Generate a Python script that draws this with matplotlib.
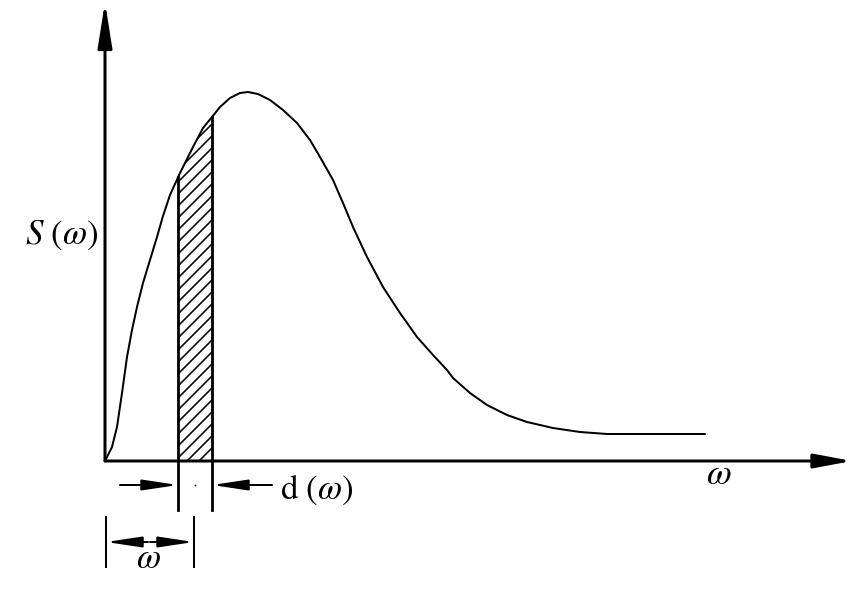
import numpy as np
import matplotlib
matplotlib.use("Agg")
import matplotlib.pyplot as plt
from matplotlib.patches import FancyArrowPatch, ArrowStyle

plt.rcParams['mathtext.fontset'] = 'stix'
plt.rcParams['font.family'] = ['Liberation Serif', 'DejaVu Serif']
plt.rcParams['hatch.linewidth'] = 1.6

# spectrum curve S(omega)
omega = [0, 7, 12, 17, 22, 27, 32, 38, 45, 52, 58, 65, 75, 88, 98, 107, 115, 125,
         135, 143, 153, 165, 178, 192, 205, 215, 228, 238, 248, 262, 278, 295, 312,
         328, 342, 348, 365, 382, 402, 422, 448, 475, 502, 532, 600]
S = [0, 14, 34, 68, 104, 131, 154, 178, 201, 224, 245, 266, 288, 314, 333, 344, 354,
     363, 368, 369, 367, 361, 351, 338, 321, 304, 281, 258, 234, 204, 174, 148, 124,
     106, 91, 83, 68, 56, 46, 39, 33, 29, 27, 27, 27]

# strip of width d(omega) at omega
strip_left = 73
strip_right = 107
axis_x_end = 747
axis_y_end = 459

DPI = 72
fig = plt.figure(figsize=(854 / DPI, 611 / DPI), dpi=DPI)
ax = fig.add_axes([0, 0, 1, 1])
ax.set_xlim(-105, 749)
ax.set_ylim(-150, 461)
ax.axis('off')


def arrow(p0, p1, hl=30, hw=5, lw=2.5):
    a = FancyArrowPatch(p0, p1, arrowstyle=ArrowStyle('-|>', head_length=hl, head_width=hw),
                        mutation_scale=1, shrinkA=0, shrinkB=0, color='black', lw=lw)
    ax.add_patch(a)


# axes
arrow((0, 0), (axis_x_end, 0), hl=32, hw=6, lw=3)
arrow((0, 0), (0, axis_y_end), hl=38, hw=6, lw=3)

# curve
ax.plot(omega, S, color='black', lw=2, solid_joinstyle='round', solid_capstyle='round')

# hatched strip
xs = np.linspace(strip_left, strip_right, 60)
ys = np.interp(xs, omega, S)
ax.fill_between(xs, 0, ys, facecolor='none', edgecolor='black', hatch='//', lw=0)
yl = np.interp(strip_left, omega, S)
yr = np.interp(strip_right, omega, S)
ax.plot([strip_left, strip_left], [-49, yl], color='black', lw=2.8)
ax.plot([strip_right, strip_right], [-49, yr], color='black', lw=2.8)

# d(omega) dimension
arrow((15, -24), (strip_left, -24), hl=30, hw=4.5, lw=2)
arrow((167, -24), (strip_right, -24), hl=30, hw=4.5, lw=2)
ax.plot([(strip_left + strip_right) / 2], [-24], marker='.', ms=1.5, color='black')
ax.text(175, -29, r'$\mathrm{d}\ (\omega)$', fontsize=35, ha='left', va='center')

# omega dimension
ax.plot([1, 1], [-56, -106], color='black', lw=2)
ax.plot([89, 89], [-56, -106], color='black', lw=2)
arrow((43, -81), (1, -81), hl=30, hw=4.5, lw=2)
arrow((45, -81), (89, -81), hl=30, hw=4.5, lw=2)
ax.text(43, -99, r'$\omega$', fontsize=35, ha='center', va='center')

# labels
ax.text(-43, 226, r'$S\ (\omega)$', fontsize=35, ha='center', va='center')
ax.text(614, -15, r'$\omega$', fontsize=36, ha='center', va='center')

fig.savefig('out.png', dpi=DPI)
